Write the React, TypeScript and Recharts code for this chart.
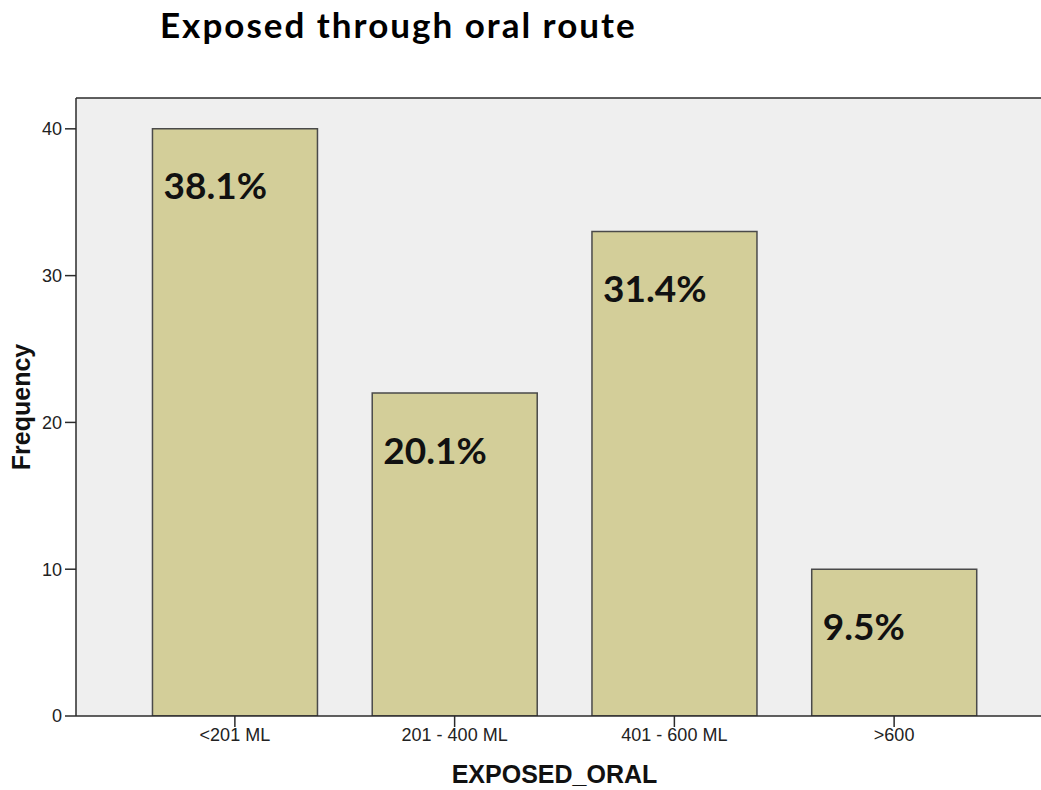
import { BarChart, Bar, XAxis, YAxis, CartesianGrid, ReferenceLine, LabelList } from 'recharts';

// Frequency of exposure volume, oral route
const categories = ['<201 ML', '201 - 400 ML', '401 - 600 ML', '>600'];
const frequencies = [40, 22, 33, 10];
const percentLabels = ['38.1%', '20.1%', '31.4%', '9.5%'];
const yTicks = [0, 10, 20, 30, 40];
const yMax = 42.1;

const data = categories.map((name, i) => ({ name, count: frequencies[i], pct: percentLabels[i] }));

const AXIS = '#2b2b2b';
const SANS = 'Liberation Sans, Arial, sans-serif';
const TICK_FONT = { fill: '#222', fontSize: 18, fontFamily: SANS };

function PercentLabel(props: any) {
  const { x, y, value } = props;
  return (
    <text
      x={Number(x) + 11}
      y={Number(y) + 61}
      fill="#111"
      fontSize={37}
      fontWeight={700}
      fontFamily="Lato, sans-serif"
      dominantBaseline="middle"
    >
      {value}
    </text>
  );
}

export default function App() {
  return (
    <div style={{ position: 'absolute', left: 0, top: 0, width: 1041, height: 790, overflow: 'hidden', background: '#fff' }}>
      <div
        style={{
          position: 'absolute',
          left: 160,
          top: 7,
          fontFamily: 'Lato, sans-serif',
          fontWeight: 700,
          fontSize: 35,
          letterSpacing: 2,
          lineHeight: 1,
          color: '#000',
          whiteSpace: 'nowrap',
        }}
      >
        Exposed through oral route
      </div>
      <BarChart
        width={1060}
        height={790}
        data={data}
        margin={{ top: 98, right: 7, bottom: 0, left: 0 }}
        barCategoryGap="12.5%"
      >
        <CartesianGrid fill="#efefef" horizontal={false} vertical={false} />
        <XAxis
          dataKey="name"
          height={74}
          padding={{ left: 49, right: 49 }}
          stroke={AXIS}
          strokeWidth={1.5}
          tickSize={11}
          tickMargin={1}
          tick={TICK_FONT}
          label={{
            content: (p: any) => {
              const vb = p.viewBox;
              return (
                <text
                  x={vb.x + vb.width / 2 - 10}
                  y={783}
                  textAnchor="middle"
                  fontSize={25}
                  fontWeight={700}
                  fontFamily={SANS}
                  fill="#111"
                >
                  EXPOSED_ORAL
                </text>
              );
            },
          }}
        />
        <YAxis
          width={76}
          domain={[0, yMax]}
          ticks={yTicks}
          allowDataOverflow
          stroke={AXIS}
          strokeWidth={1.5}
          tickSize={11}
          tickMargin={3}
          tick={TICK_FONT}
          label={{
            content: (p: any) => {
              const vb = p.viewBox;
              const cx = 30;
              const cy = vb.y + vb.height / 2;
              return (
                <text
                  x={cx}
                  y={cy}
                  transform={`rotate(-90 ${cx} ${cy})`}
                  textAnchor="middle"
                  fontSize={25}
                  fontWeight={700}
                  fontFamily={SANS}
                  fill="#111"
                >
                  Frequency
                </text>
              );
            },
          }}
        />
        <ReferenceLine y={yMax} stroke={AXIS} strokeWidth={1.5} />
        <Bar dataKey="count" fill="#d3ce99" stroke="#4a4a4a" strokeWidth={1.5} isAnimationActive={false}>
          <LabelList dataKey="pct" content={PercentLabel} />
        </Bar>
      </BarChart>
    </div>
  );
}
